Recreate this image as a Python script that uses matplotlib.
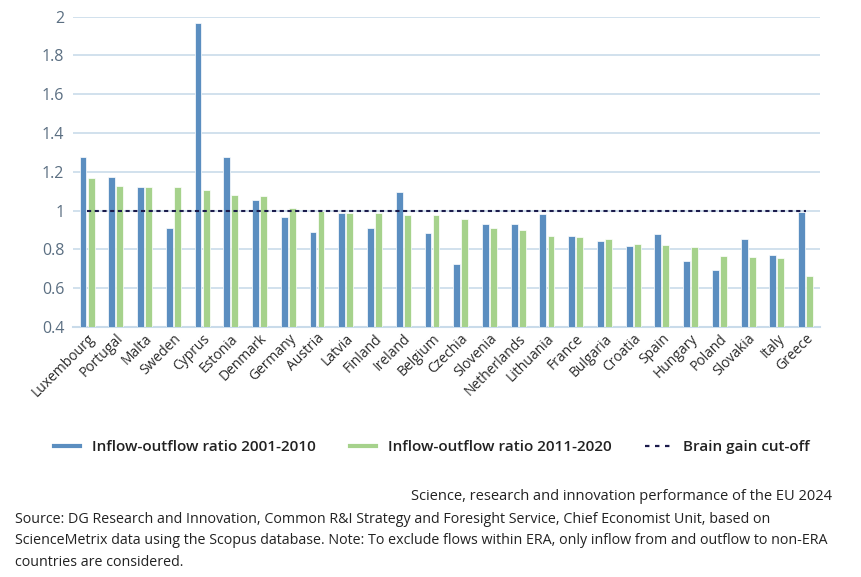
import matplotlib
matplotlib.use("Agg")
import matplotlib.pyplot as plt
import numpy as np
from matplotlib.lines import Line2D

countries = ["Luxembourg", "Portugal", "Malta", "Sweden", "Cyprus", "Estonia", "Denmark",
             "Germany", "Austria", "Latvia", "Finland", "Ireland", "Belgium", "Czechia",
             "Slovenia", "Netherlands", "Lithuania", "France", "Bulgaria", "Croatia", "Spain",
             "Hungary", "Poland", "Slovakia", "Italy", "Greece"]
ratio_2001_2010 = [1.274, 1.174, 1.123, 0.908, 1.969, 1.277, 1.054, 0.966, 0.892, 0.990,
                   0.913, 1.098, 0.887, 0.725, 0.932, 0.930, 0.985, 0.871, 0.846, 0.820,
                   0.878, 0.739, 0.694, 0.856, 0.770, 0.992]
ratio_2011_2020 = [1.167, 1.128, 1.124, 1.123, 1.105, 1.080, 1.078, 1.014, 0.999, 0.990,
                   0.988, 0.980, 0.976, 0.959, 0.909, 0.899, 0.871, 0.865, 0.852, 0.830,
                   0.821, 0.811, 0.768, 0.760, 0.758, 0.661]
cutoff = 1.0
yticks = [0.4, 0.6, 0.8, 1, 1.2, 1.4, 1.6, 1.8, 2]
ytick_labels = ["0.4", "0.6", "0.8", "1", "1.2", "1.4", "1.6", "1.8", "2"]

series1_label = "Inflow-outflow ratio 2001-2010"
series2_label = "Inflow-outflow ratio 2011-2020"
cutoff_label = "Brain gain cut-off"
footer_title = "Science, research and innovation performance of the EU 2024"
footer_source = ("Source: DG Research and Innovation, Common R&I Strategy and Foresight Service, Chief Economist Unit, based on\n"
                 "ScienceMetrix data using the Scopus database. Note: To exclude flows within ERA, only inflow from and outflow to non-ERA\n"
                 "countries are considered.")

plt.rcParams['font.family'] = ['Open Sans', 'DejaVu Sans']

blue = "#5b8ec0"
green = "#a6d28c"
navy = "#1b1b4b"
grid_c = "#c9dbea"

fig = plt.figure(figsize=(8.62, 5.77), dpi=100)
ax = fig.add_axes([72.7 / 862, 1 - 327 / 577, (820 - 72.7) / 862, (327 - 16.7) / 577])

x = np.arange(len(countries))
w = 0.24
ax.bar(x - 0.14, np.array(ratio_2001_2010) - 0.4, bottom=0.4, width=w, color=blue,
       edgecolor="white", linewidth=0.5, zorder=3, label=series1_label)
ax.bar(x + 0.14, np.array(ratio_2011_2020) - 0.4, bottom=0.4, width=w, color=green,
       edgecolor="white", linewidth=0.5, zorder=3, label=series2_label)
ax.plot(x, [cutoff] * len(x), color=navy, linestyle=(0, (2.0, 1.7)), linewidth=1.5,
        zorder=4, label=cutoff_label)

ax.set_xlim(-0.5, len(countries) - 0.5)
ax.set_ylim(0.4, 2.0)
ax.set_yticks(yticks)
ax.set_yticklabels(ytick_labels)
ax.yaxis.grid(True, color=grid_c, linewidth=1.2, zorder=0)
ax.set_axisbelow(True)
for s in ["top", "right", "left"]:
    ax.spines[s].set_visible(False)
ax.spines["bottom"].set_color(grid_c)
ax.spines["bottom"].set_linewidth(1.5)
ax.tick_params(axis="y", length=0, pad=6, labelsize=11.5, labelcolor="#5b6f82")
ax.tick_params(axis="x", length=0, pad=3)
ax.set_xticks(x)
ax.set_xticklabels(countries, rotation=45, ha="right", va="top", rotation_mode="anchor",
                   fontsize=10, color="#2a2a2a")

handles = [Line2D([], [], color=blue, linewidth=3),
           Line2D([], [], color=green, linewidth=3),
           Line2D([], [], color=navy, linewidth=1.6, linestyle=(0, (2, 2.5)))]
leg = fig.legend(handles, [series1_label, series2_label, cutoff_label], loc="center",
                 bbox_to_anchor=(432 / 862, 1 - 447 / 577), ncol=3, frameon=False,
                 handlelength=1.7, handletextpad=0.8, columnspacing=2.2,
                 prop={"size": 11, "weight": "semibold"})
for t in leg.get_texts():
    t.set_color("#222222")

fig.text(832 / 862, 1 - 497 / 577, footer_title, ha="right", va="center", fontsize=10.5,
         color="#222222")
fig.text(15 / 862, 1 - 512 / 577, footer_source, ha="left", va="top", fontsize=10.3,
         color="#222222", linespacing=1.58)

fig.savefig("out.png", dpi=100)
